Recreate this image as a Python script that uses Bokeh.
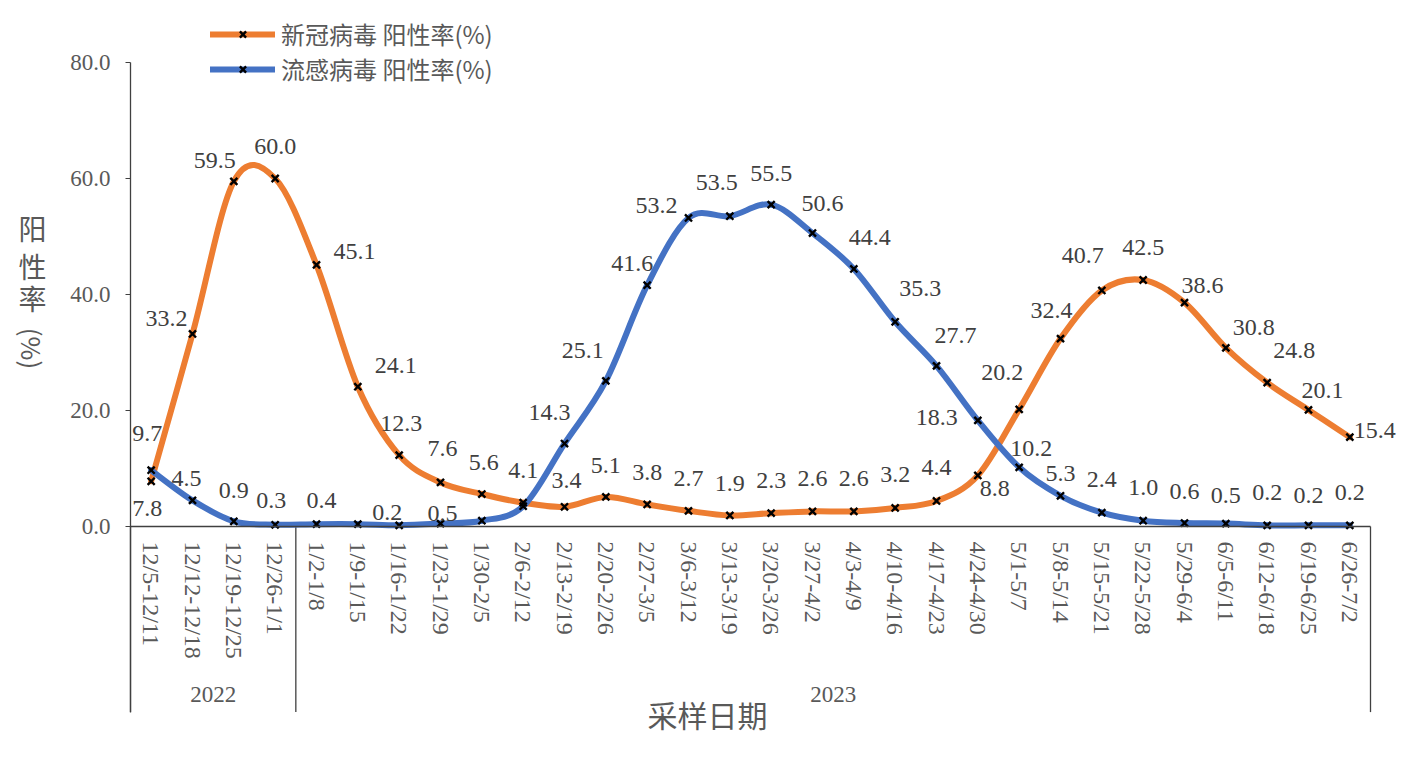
import math

from bokeh.plotting import figure
from bokeh.models import (ColumnDataSource, Range1d, FixedTicker,
                          NumeralTickFormatter, Legend, LegendItem, Label)
from bokeh.core.properties import value
from bokeh.embed import file_html
from bokeh.resources import INLINE

# ---- data -------------------------------------------------------------
years = ["2022", "2023"]
weeks_2022 = ["12/5-12/11", "12/12-12/18", "12/19-12/25", "12/26-1/1"]
weeks_2023 = ["1/2-1/8", "1/9-1/15", "1/16-1/22", "1/23-1/29", "1/30-2/5",
              "2/6-2/12", "2/13-2/19", "2/20-2/26", "2/27-3/5", "3/6-3/12",
              "3/13-3/19", "3/20-3/26", "3/27-4/2", "4/3-4/9", "4/10-4/16",
              "4/17-4/23", "4/24-4/30", "5/1-5/7", "5/8-5/14", "5/15-5/21",
              "5/22-5/28", "5/29-6/4", "6/5-6/11", "6/12-6/18", "6/19-6/25",
              "6/26-7/2"]
covid = [7.8, 33.2, 59.5, 60.0, 45.1, 24.1, 12.3, 7.6, 5.6, 4.1,
         3.4, 5.1, 3.8, 2.7, 1.9, 2.3, 2.6, 2.6, 3.2, 4.4,
         8.8, 20.2, 32.4, 40.7, 42.5, 38.6, 30.8, 24.8, 20.1, 15.4]
flu = [9.7, 4.5, 0.9, 0.3, 0.4, 0.4, 0.2, 0.5, 1.0, 3.5,
       14.3, 25.1, 41.6, 53.2, 53.5, 55.5, 50.6, 44.4, 35.3, 27.7,
       18.3, 10.2, 5.3, 2.4, 1.0, 0.6, 0.5, 0.2, 0.2, 0.2]
covid_name = "新冠病毒 阳性率(%)"
flu_name = "流感病毒 阳性率(%)"
y_ticks = [0, 20, 40, 60, 80]

# label placement (pixel offsets from the point, None = no label)
covid_off = [(-4, 27), (-26, -15), (-19, -21), (0, -32), (38, -13),
             (38, -21), (2, -32), (2, -34), (2, -32), (0, -32),
             (2, -26), (0, -31), (0, -32), (0, -32), (0, -32),
             (0, -33), (0, -33), (0, -33), (0, -33), (0, -33),
             (17, 13), (-17, -37), (-9, -28), (-19, -35), (0, -33),
             (18, -17), (28, -20), (27, -32), (14, -19), (25, -7)]
flu_off = [(-4, -37), (-6, -22), (0, -31), (-4, -24), (5, -24),
           None, (-12, -13), (2, -10), None, None,
           (-15, -31), (-23, -30), (-15, -22), (-32, -12), (-13, -34),
           (0, -31), (10, -30), (16, -31), (25, -33), (19, -30),
           (-41, -3), (12, -19), (0, -22), (0, -33), (0, -33),
           (0, -32), (0, -28), (0, -33), (0, -30), (0, -33)]

ORANGE = "#ED7D31"
BLUE = "#4472C4"
GREY = "#595959"
DARK = "#404040"
SERIF = "Liberation Serif"
CJK = "Noto Sans CJK SC"

# canvas / plot-area geometry in pixels
W, H = 1410, 760
AREA_L, AREA_R, AREA_T, AREA_B = 130, 1370, 62, 526
Y_MAX = 80
AXIS_DROP = 32          # how far (in y units) the group separators hang below 0

weeks = weeks_2022 + weeks_2023
n = len(weeks)
xs = [i + 0.5 for i in range(n)]
px_x = (AREA_R - AREA_L) / n
px_y = (AREA_B - AREA_T) / Y_MAX


def smooth_segments(ys):
    # cubic bezier pieces through the points (catmull-rom style tangents)
    seg = dict(x0=[], y0=[], x1=[], y1=[], cx0=[], cy0=[], cx1=[], cy1=[])
    for i in range(len(ys) - 1):
        a = max(i - 1, 0)
        d = min(i + 2, len(ys) - 1)
        seg["x0"].append(xs[i])
        seg["y0"].append(ys[i])
        seg["x1"].append(xs[i + 1])
        seg["y1"].append(ys[i + 1])
        seg["cx0"].append(xs[i] + (xs[i + 1] - xs[a]) / 6)
        seg["cy0"].append(ys[i] + (ys[i + 1] - ys[a]) / 6)
        seg["cx1"].append(xs[i + 1] - (xs[d] - xs[i]) / 6)
        seg["cy1"].append(ys[i + 1] - (ys[d] - ys[i]) / 6)
    return ColumnDataSource(seg)


def label_source(ys, offsets):
    d = dict(x=[], y=[], text=[], dx=[], dy=[])
    for x, v, off in zip(xs, ys, offsets):
        if off is None:
            continue
        d["x"].append(x)
        d["y"].append(v)
        d["text"].append(f"{v:.1f}")
        d["dx"].append(off[0])
        d["dy"].append(off[1])
    return ColumnDataSource(d)


p = figure(x_range=Range1d(-AREA_L / px_x, n + (W - AREA_R) / px_x),
           y_range=Range1d(-(H - AREA_B) / px_y, Y_MAX + AREA_T / px_y),
           width=W, height=H, min_border=0,
           output_backend="svg", toolbar_location=None)
p.outline_line_color = None
p.xgrid.grid_line_color = None
p.ygrid.grid_line_color = None

# y axis, pinned to the left edge of the plot area
p.yaxis.fixed_location = 0
p.yaxis.bounds = (-AXIS_DROP, Y_MAX)
p.yaxis.ticker = FixedTicker(ticks=y_ticks)
p.yaxis.formatter = NumeralTickFormatter(format="0.0")
p.yaxis.major_label_text_font = SERIF
p.yaxis.major_label_text_font_size = "23px"
p.yaxis.major_label_text_color = GREY
p.yaxis.axis_line_color = DARK
p.yaxis.axis_line_width = 1.3
p.yaxis.major_tick_line_color = DARK
p.yaxis.major_tick_out = 5
p.yaxis.major_tick_in = 0
p.yaxis.minor_tick_line_color = None
p.yaxis.major_label_standoff = 15

# x axis, one tick per sampling week
p.xaxis.fixed_location = 0
p.xaxis.bounds = (0, n)
p.xaxis.ticker = FixedTicker(ticks=xs)
p.xaxis.major_label_overrides = {x: w for x, w in zip(xs, weeks)}
p.xaxis.major_label_orientation = -math.pi / 2
p.xaxis.major_label_text_font = SERIF
p.xaxis.major_label_text_font_size = "24px"
p.xaxis.major_label_text_color = GREY
p.xaxis.major_tick_line_color = None
p.xaxis.minor_tick_line_color = None
p.xaxis.axis_line_color = DARK
p.xaxis.axis_line_width = 1.3
p.xaxis.major_label_standoff = 9

# year groups: separators and labels
bounds = [0, len(weeks_2022), n]
p.segment(x0=bounds, y0=[0] * 3, x1=bounds, y1=[-AXIS_DROP] * 3,
          line_color=DARK, line_width=1.3)
p.text(x=[(bounds[0] + bounds[1]) / 2, (bounds[1] + bounds[2]) / 2],
       y=[-AXIS_DROP + 3, -AXIS_DROP + 3], text=years,
       text_align="center", text_baseline="middle", text_font=value(SERIF),
       text_font_size="23px", text_color=GREY)

# smoothed lines
covid_line = p.bezier("x0", "y0", "x1", "y1", "cx0", "cy0", "cx1", "cy1",
                      source=smooth_segments(covid),
                      line_color=ORANGE, line_width=6, line_cap="round")
flu_line = p.bezier("x0", "y0", "x1", "y1", "cx0", "cy0", "cx1", "cy1",
                    source=smooth_segments(flu),
                    line_color=BLUE, line_width=6, line_cap="round")

pts = ColumnDataSource(dict(x=xs, covid=covid, flu=flu))
covid_pts = p.scatter("x", "covid", source=pts, marker="x", size=10,
                      line_color="black", line_width=2.4)
flu_pts = p.scatter("x", "flu", source=pts, marker="x", size=10,
                    line_color="black", line_width=2.4)

for ys, offs in ((covid, covid_off), (flu, flu_off)):
    p.text("x", "y", text="text", source=label_source(ys, offs),
           x_offset="dx", y_offset="dy", text_align="center",
           text_baseline="middle", text_font=value(SERIF),
           text_font_size="24px", text_color=DARK)

legend = Legend(items=[LegendItem(label=covid_name, renderers=[covid_line, covid_pts]),
                       LegendItem(label=flu_name, renderers=[flu_line, flu_pts])],
                location=(210, H - 86), orientation="vertical",
                glyph_width=65, glyph_height=22, label_height=22,
                label_standoff=6, spacing=0, padding=0, margin=0,
                border_line_color=None, background_fill_alpha=0,
                label_text_font=CJK, label_text_font_size="24px",
                label_text_color=GREY)
p.add_layout(legend, "center")

# axis titles
for ch, yy in zip(["阳", "性", "率"], [227, 265, 297]):
    p.add_layout(Label(x=32, y=H - yy, x_units="screen", y_units="screen",
                       text=ch, text_align="center", text_baseline="middle",
                       text_font=CJK, text_font_size="28px", text_color=GREY))
p.add_layout(Label(x=32, y=H - 348, x_units="screen", y_units="screen",
                   text="(%)", angle=-math.pi / 2, text_align="center",
                   text_baseline="middle", text_font=CJK,
                   text_font_size="26px", text_color=GREY))
p.add_layout(Label(x=707, y=H - 713, x_units="screen", y_units="screen",
                   text="采样日期", text_align="center", text_baseline="middle",
                   text_font=CJK, text_font_size="30px", text_color=GREY))

open("out.html", "w").write(file_html(p, INLINE))
